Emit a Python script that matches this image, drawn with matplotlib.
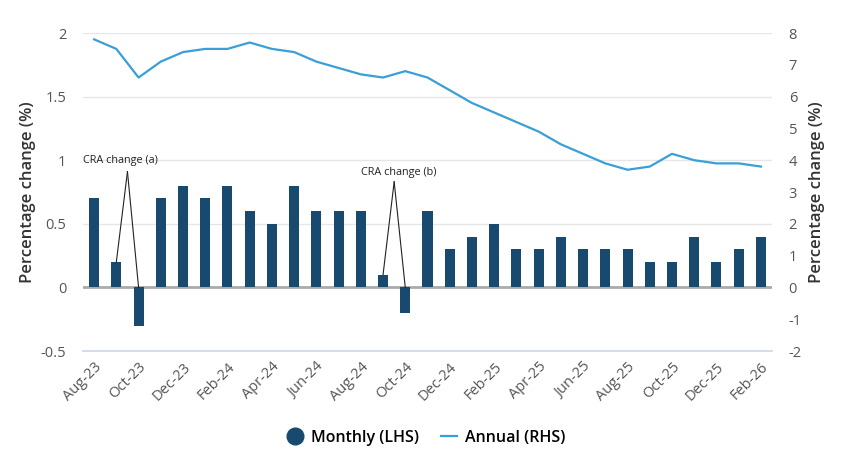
import matplotlib
matplotlib.use("Agg")
import matplotlib.pyplot as plt
from matplotlib.lines import Line2D

plt.rcParams['font.family'] = ['Open Sans', 'DejaVu Sans']
plt.rcParams['axes.unicode_minus'] = False

months = ["Aug-23", "Sep-23", "Oct-23", "Nov-23", "Dec-23", "Jan-24", "Feb-24", "Mar-24",
          "Apr-24", "May-24", "Jun-24", "Jul-24", "Aug-24", "Sep-24", "Oct-24", "Nov-24",
          "Dec-24", "Jan-25", "Feb-25", "Mar-25", "Apr-25", "May-25", "Jun-25", "Jul-25",
          "Aug-25", "Sep-25", "Oct-25", "Nov-25", "Dec-25", "Jan-26", "Feb-26"]
monthly = [0.7, 0.2, -0.3, 0.7, 0.8, 0.7, 0.8, 0.6, 0.5, 0.8, 0.6, 0.6, 0.6, 0.1, -0.2, 0.6,
           0.3, 0.4, 0.5, 0.3, 0.3, 0.4, 0.3, 0.3, 0.3, 0.2, 0.2, 0.4, 0.2, 0.3, 0.4]
annual = [7.8, 7.5, 6.6, 7.1, 7.4, 7.5, 7.5, 7.7, 7.5, 7.4, 7.1, 6.9, 6.7, 6.6, 6.8, 6.6,
          6.2, 5.8, 5.5, 5.2, 4.9, 4.5, 4.2, 3.9, 3.7, 3.8, 4.2, 4.0, 3.9, 3.9, 3.8]
left_ticks = [-0.5, 0, 0.5, 1, 1.5, 2]
left_labels = ["-0.5", "0", "0.5", "1", "1.5", "2"]
right_ticks = [-2, -1, 0, 1, 2, 3, 4, 5, 6, 7, 8]

bar_color = "#174a6e"
line_color = "#3a9fd8"
tick_color = "#555555"

fig = plt.figure(figsize=(8.52, 4.61), dpi=100)
ax = fig.add_axes([83/852, 1-351/461, (772-83)/852, (351-33)/461])
x = list(range(len(months)))

ax.set_ylim(-0.5, 2)
ax.set_xlim(-0.5, len(months)-0.5)
for t in left_ticks[1:]:
    if t != 0:
        ax.axhline(t, color="#e6e6e6", lw=1, zorder=0)
ax.axhline(-0.5, color="#ccd6eb", lw=1.2, zorder=0, clip_on=False)
ax.axhline(0, color="#aaaaaa", lw=2, zorder=1)
ax.bar(x, monthly, width=0.45, color=bar_color, zorder=2)

ax.set_yticks(left_ticks)
ax.set_yticklabels(left_labels)
ax.set_xticks(x[::2])
ax.set_xticklabels(months[::2], rotation=45, ha="right", rotation_mode="anchor")
ax.tick_params(axis="both", length=0, colors=tick_color, labelsize=10.5)
ax.tick_params(axis="x", pad=6)
ax.tick_params(axis="y", pad=12)
for s in ax.spines.values():
    s.set_visible(False)
ax.set_ylabel("Percentage change (%)", fontsize=12, fontweight="semibold", color="#333333")
ax.yaxis.set_label_coords((36-83)/689, 0.5)

ax2 = ax.twinx()
ax2.set_ylim(-2, 8)
ax2.plot(x, annual, color=line_color, lw=1.6, zorder=3)
ax2.set_yticks(right_ticks)
ax2.tick_params(axis="y", length=0, colors=tick_color, labelsize=10.5, pad=12)
for s in ax2.spines.values():
    s.set_visible(False)
ax2.set_ylabel("Percentage change (%)", fontsize=12, fontweight="semibold", color="#333333")
ax2.yaxis.set_label_coords((809-83)/689, 0.5)

# annotations
def cra(label, i1, i2, apex_x, apex_y, text_x, text_y):
    ax.text(text_x, text_y, label, fontsize=7.8, color="#222222", ha="center", va="center")
    ax.plot([apex_x, i1], [apex_y, monthly[i1]], color="#222222", lw=0.8, zorder=4)
    ax.plot([apex_x, i2], [apex_y, 0], color="#222222", lw=0.8, zorder=4)

cra("CRA change (a)", 1, 2, 1.5, 0.91, 1.2, 1.0)
cra("CRA change (b)", 13, 14, 13.5, 0.83, 13.7, 0.905)

handles = [Line2D([], [], marker="o", color="none", markerfacecolor=bar_color, markeredgecolor=bar_color, markersize=12),
           Line2D([], [], color=line_color, lw=1.6)]
fig.legend(handles, ["Monthly (LHS)", "Annual (RHS)"], loc="center", bbox_to_anchor=(0.5, 1-438/461),
           ncol=2, frameon=False, handlelength=1.0, columnspacing=1.4, handletextpad=0.5,
           prop={'weight': 'semibold', 'size': 11.5})

fig.savefig("out.png", dpi=100)
